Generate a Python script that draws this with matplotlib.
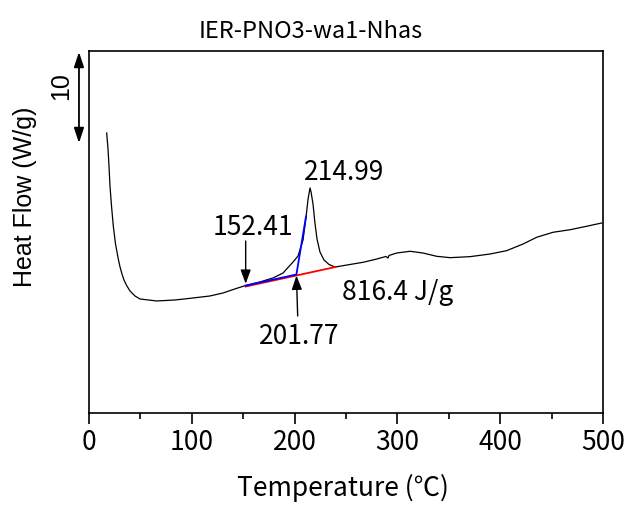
import matplotlib
matplotlib.use('Agg')
import matplotlib.pyplot as plt
from matplotlib.ticker import MultipleLocator
import matplotlib.transforms as mtransforms

# DSC curve (temperature in C, heat flow in plot units)
temp = [17.2, 18.5, 19.5, 20.4, 21.9, 23.6, 25.8, 28.5, 30.2, 32.1, 34.0, 36.7,
        39.9, 41.8, 44.7, 49.6, 65.9, 83.7, 98.2, 117.7, 130.4, 143.7, 151.8,
        166.3, 179.0, 188.7, 193.6, 198.5, 203.3, 208.2, 211.1, 213.1, 215.0,
        216.0, 217.9, 219.9, 221.8, 224.7, 228.6, 233.5, 239.3, 253.9, 266.5,
        278.2, 288.9, 290.9, 291.8, 299.3, 312.3, 324.9, 338.2, 351.2, 370.6,
        390.1, 406.3, 422.2, 435.5, 451.4, 468.0, 484.1, 498.7]
heat = [30.77, 29.01, 27.03, 24.98, 22.75, 20.58, 18.57, 16.92, 16.04, 15.27,
        14.62, 13.99, 13.41, 13.19, 12.86, 12.53, 12.31, 12.42, 12.60, 12.86,
        13.19, 13.70, 13.99, 14.40, 14.84, 15.38, 15.99, 16.59, 17.25, 19.01,
        21.50, 23.52, 24.73, 24.29, 22.97, 20.77, 19.12, 17.69, 16.81, 16.32,
        16.04, 16.32, 16.56, 16.87, 17.20, 17.03, 17.31, 17.58, 17.77, 17.58,
        17.22, 17.07, 17.18, 17.47, 17.84, 18.57, 19.31, 19.86, 20.14, 20.52,
        20.88]

# integration baseline (red) and onset construction (blue)
base_t = [152.41, 240.0]
base_h = [13.90, 16.05]
onset_t = [152.41, 201.77, 211.1]
onset_h = [14.00, 15.22, 21.60]

onset = 152.41
peak = 214.99
end_pt = 201.77
area = '816.4 J/g'

jp = ['Noto Sans CJK JP', 'DejaVu Sans']
arial = ['Liberation Sans', 'DejaVu Sans']

fig = plt.figure(figsize=(6.38, 5.06), dpi=100)
ax = fig.add_axes([89 / 638, 1 - 414 / 506, 514 / 638, 362 / 506])

ax.plot(temp, heat, color='black', lw=0.9)
ax.plot(base_t, base_h, color='red', lw=1.3)
ax.plot(onset_t, onset_h, color='blue', lw=1.3)

ax.set_xlim(0, 500)
ax.set_ylim(0, 39.78)
ax.xaxis.set_major_locator(MultipleLocator(100))
ax.xaxis.set_minor_locator(MultipleLocator(50))
ax.tick_params(axis='x', which='major', direction='out', length=8, width=1.2, pad=3)
ax.tick_params(axis='x', which='minor', direction='out', length=4.5, width=1.2)
ax.set_yticks([])
for lab in ax.get_xticklabels():
    lab.set_fontfamily(jp)
    lab.set_fontsize(19)
for sp in ax.spines.values():
    sp.set_linewidth(1.2)

# labels on the DSC events
arrow = dict(arrowstyle='-|>,head_length=0.6,head_width=0.22', color='black',
             lw=1.0, mutation_scale=14, shrinkA=0, shrinkB=0)
ax.annotate('', xy=(onset, 14.2), xytext=(onset, 18.9), arrowprops=arrow)
ax.text(159.5, 20.44, f'{onset:.2f}', family=jp, fontsize=19, ha='center', va='center')
ax.annotate('', xy=(end_pt, 15.1), xytext=(203.0, 10.66), arrowprops=arrow)
ax.text(204.3, 8.57, f'{end_pt:.2f}', family=jp, fontsize=19, ha='center', va='center')
ax.text(248.0, 26.5, f'{peak:.2f}', family=jp, fontsize=19, ha='center', va='center')
ax.text(300.6, 13.3, area, family=jp, fontsize=19, ha='center', va='center')

# 10 W/g scale bar left of the axes
trans = mtransforms.blended_transform_factory(ax.transAxes, ax.transData)
ax.annotate('', xy=(-0.0195, 39.67), xytext=(-0.0195, 29.67),
            xycoords=trans, textcoords=trans, annotation_clip=False,
            arrowprops=dict(arrowstyle='<|-|>,head_length=0.6,head_width=0.2',
                            color='black', lw=1.3, mutation_scale=15,
                            shrinkA=0, shrinkB=0))
ax.text(-0.0545, 36.04, '10', transform=trans, rotation=90, family=arial,
        fontsize=18, ha='center', va='center', clip_on=False)

fig.text(25 / 638, 1 - 196.5 / 506, 'Heat Flow (W/g)', rotation=90, family=arial,
         fontsize=18, ha='center', va='center')
fig.text(343 / 638, 1 - 488 / 506, 'Temperature (℃)', family=jp, fontsize=19,
         ha='center', va='center')
fig.text(311 / 638, 1 - 32 / 506, 'IER-PNO3-wa1-Nhas', family=jp, fontsize=17,
         ha='center', va='center')

fig.savefig('out.png', dpi=100)
